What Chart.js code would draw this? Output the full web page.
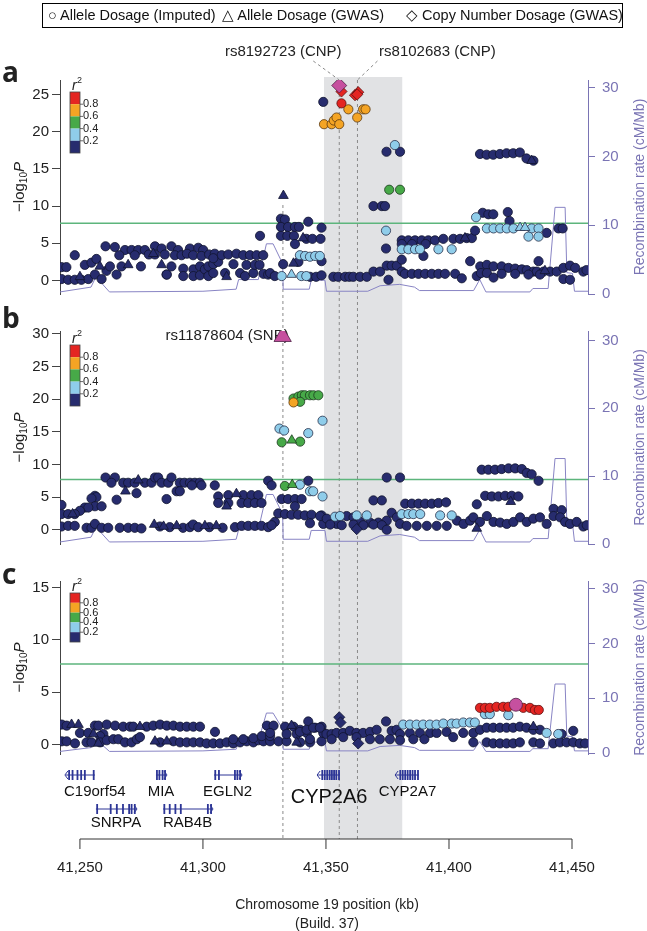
<!DOCTYPE html>
<html>
<head>
<meta charset="utf-8">
<script src="https://cdn.jsdelivr.net/npm/chart.js@4.4.1/dist/chart.umd.min.js"></script>
<style>
  body { margin: 0; background: #fff; width: 647px; height: 931px; position: relative; overflow: hidden; font-family: "Liberation Sans", Arial, sans-serif; }
  canvas { position: absolute; left: 0; }
  #bg { z-index: 0; }
  .panel { z-index: 1; }
  #legend { position: absolute; z-index: 2; left: 42px; top: 3px; width: 579px; height: 23px; border: 1px solid #000; font-size: 14.5px; color: #111; }
  #legend span { position: absolute; top: 3px; white-space: nowrap; }
</style>
</head>
<body>
<div id="legend">
  <span style="left:5px">○ Allele Dosage (Imputed)</span>
  <span style="left:179px">△ Allele Dosage (GWAS)</span>
  <span style="left:363px">◇ Copy Number Dosage (GWAS)</span>
</div>
<canvas id="bg" width="647" height="931" style="top:0"></canvas>
<canvas id="pa" class="panel" width="647" height="280" style="top:30px"></canvas>
<canvas id="pb" class="panel" width="647" height="245" style="top:315px"></canvas>
<canvas id="pc" class="panel" width="647" height="205" style="top:565px"></canvas>
<script>
// chromosome 19 window (kb)
const xMin = 41241.9, xMax = 41456.5;
const xTicks = [41250, 41300, 41350, 41400, 41450];
const aTicks = [0, 5, 10, 15, 20, 25];
const bTicks = [0, 5, 10, 15, 20, 25, 30];
const cTicks = [0, 5, 10, 15];
const recombTicks = [0, 10, 20, 30];
const sigLevel = 7.7;
const bandStart = 41349.2, bandEnd = 41381.0;
const leadPos = [41332.5, 41355.4, 41362.8];

// recombination rate (cM/Mb)
const recombPos = [41241.9, 41254.5, 41256.5, 41262, 41300, 41313.5, 41314.5, 41322.5, 41325.8, 41328.5, 41332.4, 41332.6,
  41343.2, 41344.0, 41349.6, 41350.2, 41367, 41372, 41380, 41386, 41388, 41410, 41412.5, 41415, 41432.9, 41434.1,
  41440.3, 41443.1, 41447.2, 41447.9, 41450.2, 41451.0, 41456.5];
const recombRate = [0.3, 1.0, 2.5, 0.3, 0.4, 0.7, 2.1, 2.1, 7.3, 7.3, 4.4, 0.7,
  0.7, 2.0, 2.0, 0.4, 0.4, 1.2, 1.4, 1.0, 0.5, 0.5, 2.1, 0.3, 0.3, 0.8,
  0.8, 12.6, 12.6, 3.1, 3.0, 0.4, 0.4];

// genes
const geneNames = ['C19orf54', 'SNRPA', 'MIA', 'RAB4B', 'EGLN2', 'CYP2A6', 'CYP2A7'];
const geneStart = [41244.3, 41256.5, 41280.9, 41283.8, 41304.5, 41346.8, 41378.5];
const geneEnd = [41256.1, 41272.8, 41285.0, 41303.7, 41315.5, 41355.7, 41387.8];
const geneRow = [0, 1, 0, 1, 0, 0, 0];
const geneStrand = ['-', '+', '+', '+', '+', '-', '-'];
const geneExons = [
  [41245.6, 41247.0, 41249.0, 41250.5, 41252.0, 41255.6],
  [41257.0, 41262.5, 41265.0, 41267.5, 41270.0, 41271.0, 41272.3],
  [41281.3, 41282.3, 41283.6, 41284.6],
  [41284.3, 41286.5, 41288.8, 41291.0, 41302.0, 41303.3],
  [41305.0, 41306.5, 41313.0, 41314.0, 41315.1],
  [41348.5, 41349.5, 41350.5, 41351.5, 41352.4, 41353.3, 41354.2, 41355.3],
  [41380.2, 41381.2, 41382.2, 41383.2, 41384.2, 41385.2, 41386.2, 41387.4]
];

// panel a : [position kb, -log10 P]
const aNavy = [
  [41242.5,0.2],[41245.2,0.1],[41247.9,0.1],[41250.6,0.1],[41253.4,0.2],[41256.1,0.8],[41258.8,0.2],
  [41242.5,1.8],[41244.5,1.8],[41252.0,2.1],[41254.7,2.4],[41256.7,2.9],[41247.9,3.4],
  [41260.8,1.3],[41262.2,1.9],[41264.9,0.8],[41266.9,1.9],[41274.8,1.9],[41285.2,0.8],[41287.2,1.9],
  [41285.3,0.8],[41292.0,1.6],[41292.0,0.6],[41296.1,1.5],[41296.1,0.6],[41298.8,1.9],[41298.8,0.7],[41300.8,1.5],
  [41302.2,1.9],[41302.2,0.6],[41304.2,2.2],[41304.2,1.0],[41306.2,2.5],[41309.0,1.0],[41312.4,2.2],[41315.1,1.0],
  [41317.1,0.6],[41317.7,2.1],[41320.5,1.0],[41321.1,2.1],[41323.0,2.1],[41324.6,0.9],[41326.5,0.8],[41327.3,1.0],[41329.2,0.6],
  [41260.4,4.6],[41264.2,4.5],[41268.3,4.1],[41271.0,4.1],[41273.7,4.1],[41276.4,4.1],[41280.5,4.6],[41283.2,4.3],
  [41287.2,4.6],[41289.9,4.1],[41294.7,4.3],[41298.1,4.4],[41300.1,4.1],
  [41266.0,3.4],[41272.3,3.4],[41278.0,3.5],[41280.5,3.5],[41284.5,3.5],[41288.6,3.4],[41291.3,3.4],[41293.5,3.6],
  [41296.0,3.4],[41299.4,3.3],[41302.5,3.5],[41304.8,3.6],[41307.6,3.4],[41310.3,3.5],[41313.6,3.6],[41316.4,3.4],
  [41319.1,3.4],[41321.8,3.4],[41324.5,3.4],[41304.2,3.0],
  [41323.2,6.0],[41331.7,8.3],[41333.3,8.2],[41331.7,7.2],[41334.6,7.2],[41337.4,7.2],[41339.0,7.2],[41342.8,7.9],
  [41331.7,6.0],[41334.3,6.0],[41337.0,6.0],[41337.4,4.9],[41342.0,5.6],[41344.5,5.6],[41347.8,5.6],[41348.2,7.1],
  [41332.6,2.2],[41338.8,2.5],[41348.2,2.6],[41343.5,0.5],[41346.0,0.5],[41348.2,0.7],
  [41348.9,24.0],[41374.6,17.3],[41380.1,17.3],[41369.3,10.0],[41372.7,10.0],[41374.0,10.0],[41374.4,4.3],
  [41353.0,0.5],[41355.0,0.5],[41357.8,0.5],[41359.5,0.5],[41361.1,0.5],[41363.9,0.5],[41366.6,0.5],[41369.3,1.2],
  [41372.0,1.2],[41374.7,2.0],[41376.7,2.0],[41378.8,2.0],[41380.8,1.2],[41375.4,0.1],
  [41380.8,5.4],[41383.5,5.4],[41386.2,5.4],[41388.9,5.4],[41391.6,5.4],[41394.3,5.4],[41397.7,5.6],[41401.8,5.6],
  [41404.5,5.6],[41407.2,5.7],[41409.3,5.7],[41380.8,4.9],[41385.0,4.9],[41390.5,4.9],[41380.8,2.8],[41389.6,3.3],
  [41382.1,0.9],[41384.9,0.9],[41387.6,0.9],[41390.3,0.9],[41393.0,0.9],[41395.7,0.9],[41398.4,0.9],[41402.5,0.9],
  [41405.2,0.3],[41408.6,2.6],[41411.3,0.6],[41412.7,1.9],[41415.4,2.1],[41418.1,1.9],[41413.0,1.0],[41415.4,1.0],
  [41418.1,0.4],[41421.4,1.9],[41424.2,1.7],[41426.9,1.6],[41429.6,1.5],[41431.6,1.4],[41434.3,1.2],[41436.4,2.6],
  [41435.7,1.2],[41438.4,1.2],[41441.1,1.2],[41443.8,1.2],[41446.5,1.7],[41449.2,2.0],[41451.3,1.7],[41454.6,1.2],
  [41455.9,1.4],[41446.5,0.2],[41449.2,0.1],[41421.4,0.9],[41426.9,0.9],[41432.3,0.8],[41437.0,0.8],
  [41413.7,9.1],[41416.0,8.9],[41418.0,8.9],[41423.9,9.2],[41424.6,8.0],[41410.6,6.7],[41439.7,6.4],[41444.5,7.0],[41446.2,7.0],
  [41412.6,17.0],[41415.3,16.9],[41418.0,16.9],[41420.7,17.0],[41423.4,17.1],[41426.1,17.1],[41428.8,17.2],[41431.5,16.4],[41434.3,16.1]
];
const aNavyTri = [[41250.0,0.5],[41258.1,1.9],[41269.6,2.1],[41283.2,2.1],[41279.8,3.6],[41309.6,0.5],[41332.7,11.4],
  [41340.7,5.7],[41336.8,2.3],[41433.6,16.1],[41406.5,5.7],[41439.0,1.3]];
const aLightBlue = [[41339.4,3.4],[41341.5,3.3],[41343.5,3.2],[41345.6,3.3],[41347.5,3.3],[41332.0,0.6],[41340.0,0.6],
  [41342.0,0.6],[41378.0,18.2],[41374.4,6.7],[41380.8,4.2],[41383.5,4.2],[41386.2,4.2],[41388.2,4.2],[41395.7,4.2],
  [41401.1,4.2],[41411.0,8.5],[41415.4,7.0],[41418.1,7.0],[41420.8,7.0],[41423.5,7.0],[41426.2,7.0],[41433.6,7.0],
  [41436.4,7.0],[41432.3,5.9],[41436.4,5.9]];
const aLightBlueTri = [[41336.0,0.8],[41428.9,7.1],[41430.9,7.1]];
const aGreen = [[41375.7,12.2],[41380.1,12.2]];
const aOrange = [[41359.1,23.0],[41362.7,21.9],[41365.1,23.0],[41366.1,23.0],[41349.2,21.0],[41352.3,21.0],
  [41353.2,21.5],[41354.3,21.9],[41355.4,21.0]];
const aRed = [[41356.3,23.8]];
const aRedDia = [[41356.3,25.4],[41361.8,24.9],[41363.1,25.3],[41362.7,25.0]];
const aLead = [[41355.4,26.2]];

// panel b
const bNavy = [
  [41260.4,8.0],[41264.2,8.0],[41262.8,7.2],[41267.6,7.2],[41269.6,7.2],[41272.3,7.2],[41276.4,7.2],[41279.1,7.2],
  [41280.5,8.0],[41281.8,8.0],[41283.2,7.2],[41285.9,7.2],[41287.2,8.0],[41290.6,7.2],[41292.5,7.2],[41294.7,7.2],
  [41296.7,7.2],[41298.7,7.2],[41295.5,6.8],[41299.4,6.8],[41304.8,6.8],[41326.5,7.5],[41327.9,6.8],[41342.8,7.5],
  [41273.0,5.6],[41264.9,4.6],[41285.2,4.7],[41289.3,5.9],[41290.6,5.9],[41256.1,5.2],[41256.7,5.0],[41254.7,4.8],
  [41256.1,3.6],[41258.8,3.6],[41252.0,3.4],[41253.4,3.4],[41250.0,2.9],[41247.9,2.4],[41242.5,3.8],[41242.5,2.4],[41245.2,2.4],
  [41242.5,0.5],[41245.2,0.6],[41247.9,0.6],[41252.7,0.3],[41254.7,0.3],[41256.1,0.9],[41258.8,0.3],[41261.5,0.3],
  [41266.2,0.3],[41269.6,0.3],[41272.3,0.3],[41275.0,0.2],[41282.5,0.5],[41286.5,0.4],[41291.9,0.3],[41294.7,0.4],
  [41296.0,0.8],[41298.1,0.4],[41302.6,0.4],[41308.0,0.3],[41313.0,0.4],[41315.7,0.6],[41318.4,0.6],[41321.1,0.6],
  [41323.8,0.6],[41326.5,0.4],[41329.2,1.2],[41327.9,0.7],
  [41306.2,5.1],[41310.3,5.3],[41316.4,5.3],[41319.7,5.3],[41322.5,5.3],[41306.2,4.1],[41310.3,4.1],[41315.7,4.1],
  [41318.4,4.1],[41321.1,4.1],[41323.8,4.1],
  [41332.0,4.7],[41334.6,4.7],[41337.4,4.7],[41340.1,4.7],[41337.4,3.6],[41330.6,2.5],[41333.3,2.4],[41336.0,2.3],
  [41338.7,2.3],[41341.4,2.2],[41344.1,2.3],[41348.2,2.2],[41343.5,1.0],[41348.9,0.9],
  [41374.7,8.0],[41380.1,8.0],[41369.3,4.5],[41372.7,4.5],
  [41382.2,4.0],[41384.9,4.0],[41387.6,4.0],[41390.3,4.0],[41393.0,4.0],[41395.7,4.1],[41398.8,4.2],
  [41413.3,9.2],[41416.0,9.2],[41418.7,9.2],[41421.4,9.3],[41424.2,9.4],[41426.9,9.4],[41429.6,9.3],[41431.6,8.7],
  [41433.6,8.5],[41436.4,7.5],
  [41414.7,5.2],[41417.4,5.1],[41420.1,5.1],[41422.8,5.2],[41425.5,5.2],[41428.2,5.1],[41411.3,3.9],[41442.5,3.2],[41445.8,3.0],
  [41347.6,2.1],[41350.3,1.7],[41354.4,0.9],[41358.4,2.1],[41361.2,1.9],[41363.9,1.2],[41367.9,1.1],[41371.3,1.1],
  [41374.7,1.4],[41376.7,2.6],[41378.8,1.9],[41380.1,0.9],[41382.8,0.6],[41386.9,0.6],[41391.0,0.6],[41395.0,0.6],
  [41399.1,0.6],[41403.2,1.4],[41405.9,0.9],[41408.6,1.4],[41409.9,1.9],[41412.6,1.2],[41415.4,2.1],[41418.1,1.2],
  [41420.8,1.1],[41423.5,0.9],[41426.2,1.2],[41428.9,1.9],[41431.6,1.2],[41434.3,1.7],[41437.0,1.9],[41439.7,0.9],
  [41442.5,2.1],[41445.2,1.9],[41447.2,1.2],[41449.2,0.9],[41451.9,1.2],[41454.6,0.5],[41456.0,0.7],
  [41351.7,0.8],[41356.4,0.7],[41361.2,0.8],[41365.2,0.7],[41369.3,0.8],[41372.7,0.7],[41374.7,0.0]
];
const bNavyTri = [[41268.5,5.9],[41309.6,3.6],[41247.0,2.4],[41280.2,0.8],[41284.0,0.5],[41289.3,0.6],[41300.8,0.6],
  [41305.4,0.6],[41313.6,5.5],[41425.1,4.3],[41411.3,0.2],[41273.7,7.6]];
const bNavyDia = [[41362.5,0.1]];
const bLightBlue = [[41331.1,15.5],[41333.0,15.2],[41342.8,14.8],[41348.6,16.7],[41339.4,6.9],[41343.5,5.9],[41344.8,5.9],
  [41348.6,5.1],[41353.7,2.0],[41355.7,2.1],[41362.5,2.2],[41366.6,2.2],[41380.8,2.4],[41383.5,2.4],[41385.5,2.4],
  [41388.3,2.4],[41396.4,2.2],[41401.1,2.2]];
const bGreen = [[41332.0,13.4],[41339.5,13.5],[41336.8,20.1],[41338.8,20.4],[41340.2,20.6],[41341.4,20.6],[41343.5,20.6],
  [41344.9,20.6],[41346.9,20.6],[41339.5,19.6],[41333.3,6.7]];
const bGreenTri = [[41336.1,13.7],[41336.3,6.9]];
const bOrange = [[41336.8,19.5]];
const bLead = [[41332.4,29.6]];

// panel c
const cNavy = [
  [41242.6,1.9],[41244.6,1.8],[41250.0,1.1],[41253.4,1.1],[41256.1,1.8],[41257.5,1.8],[41260.9,1.9],[41264.3,1.8],
  [41267.6,1.7],[41270.4,1.7],[41271.7,1.7],[41277.1,1.7],[41279.8,1.8],[41282.6,1.9],[41285.3,1.8],[41288.0,1.8],
  [41290.7,1.7],[41293.4,1.7],[41296.1,1.7],[41298.8,1.7],[41304.9,1.2],[41259.5,1.0],[41258.2,0.8],
  [41242.6,0.3],[41244.6,0.3],[41248.0,0.1],[41252.7,0.2],[41254.7,0.2],[41258.2,0.2],[41260.9,0.4],[41263.6,0.5],
  [41265.6,0.5],[41268.3,0.2],[41271.0,0.2],[41273.1,0.5],[41274.4,0.7],[41282.6,0.2],[41288.0,0.3],[41290.7,0.2],
  [41293.4,0.2],[41296.1,0.2],[41298.8,0.2],[41301.5,0.1],[41304.2,0.1],[41306.9,0.1],[41309.6,0.2],[41312.3,0.1],
  [41315.1,0.2],[41317.8,0.3],[41320.5,0.2],[41322.5,0.4],[41324.6,0.3],[41327.3,0.3],[41330.7,0.3],[41334.0,0.3],
  [41339.5,0.2],[41343.5,0.2],[41348.2,0.3],
  [41312.3,0.5],[41316.4,0.5],[41320.5,0.6],[41323.9,0.8],[41327.3,0.8],
  [41326.0,1.8],[41328.7,1.8],[41333.4,1.7],[41336.8,1.7],[41339.5,1.4],[41342.8,2.2],[41345.6,1.6],[41348.2,1.7],
  [41348.9,1.1],[41334.0,1.0],[41338.1,1.0],[41342.2,1.1],[41327.3,1.1],
  [41339.4,1.2],[41342.1,1.4],[41344.8,1.6],[41347.5,1.6],[41350.2,1.0],[41352.3,1.0],[41354.3,1.1],[41357.0,1.1],
  [41359.7,1.3],[41362.4,1.1],[41365.1,1.1],[41367.9,1.2],[41370.6,1.4],[41374.4,2.2],[41376.7,1.3],[41378.7,1.4],
  [41343.5,0.5],[41352.3,0.5],[41357.0,0.7],[41362.4,0.7],[41367.9,0.5],[41371.9,0.5],[41376.0,0.5],
  [41380.1,1.0],[41384.1,1.1],[41388.2,1.1],[41392.3,1.1],[41395.0,1.1],[41399.0,1.2],[41401.7,0.7],[41405.8,1.1],
  [41409.9,1.1],[41412.6,1.4],[41415.3,1.6],[41418.0,1.6],[41420.7,1.6],[41423.4,1.6],[41426.1,1.6],[41428.8,1.7],
  [41431.5,1.6],[41434.3,1.4],[41437.0,1.4],[41445.8,1.0],[41450.5,1.3],[41380.1,0.4],[41385.5,0.5],[41390.0,0.5],
  [41409.9,0.2],[41415.3,0.2],[41418.0,0.1],[41420.7,0.1],[41423.4,0.1],[41426.1,0.1],[41428.8,0.2],[41434.3,0.2],
  [41437.0,0.1],[41442.4,0.1],[41445.1,0.2],[41447.8,0.2],[41450.5,0.2],[41453.2,0.1],[41455.3,0.1]
];
const cNavyTri = [[41246.6,1.9],[41249.4,1.9],[41255.5,1.0],[41257.5,0.1],[41274.4,1.7],[41280.5,0.3],[41285.3,0.3],
  [41336.0,1.8],[41338.1,0.2],[41434.3,1.7]];
const cNavyDia = [[41355.4,2.6],[41355.9,2.1],[41363.1,0.1]];
const cLightBlue = [[41381.4,1.9],[41384.1,1.9],[41386.8,1.9],[41389.5,1.9],[41392.2,1.9],[41394.9,1.9],[41397.7,2.0],
  [41401.1,2.0],[41403.1,2.0],[41405.8,2.1],[41408.5,2.1],[41410.5,2.1],[41414.6,2.9],[41416.6,2.9],[41424.1,2.8],
  [41439.7,1.1],[41444.4,1.0]];
const cRed = [[41412.6,3.5],[41414.6,3.5],[41416.6,3.5],[41419.3,3.6],[41422.0,3.6],[41424.1,3.6],[41430.2,3.5],
  [41432.9,3.5],[41434.9,3.3],[41436.5,3.3]];
const cLead = [[41427.2,3.8]];

const FONT = '"Liberation Sans", Arial, sans-serif';
const PURPLE = '#7A74B4';
const col = {
  navy: ['#272C6E', '#10142E'], lb: ['#8FCDEA', '#27304A'], green: ['#47A948', '#1C3A1E'],
  orange: ['#F4A424', '#5A3810'], red: ['#E42522', '#5A1212'], mag: ['#C6509F', '#4E1F45']
};
const keyColors = ['#E42522', '#F4A424', '#47A948', '#8FCDEA', '#272C6E'];
const keyLabels = ['0.8', '0.6', '0.4', '0.2'];
const shapes = { circle: ['circle', 4.6], tri: ['triangle', 5.6], dia: ['rectRot', 5.6] };

function series(data, c, shape, order, r) {
  return {
    data: data.map(p => ({ x: p[0], y: p[1] })),
    pointStyle: shapes[shape][0],
    pointRadius: r || shapes[shape][1],
    pointBackgroundColor: col[c][0],
    pointBorderColor: col[c][1],
    pointBorderWidth: 0.8,
    order: order,
    yAxisID: 'y'
  };
}

function drawLogP(ctx, cx, cy) {
  ctx.save();
  ctx.translate(cx, cy);
  ctx.rotate(-Math.PI / 2);
  ctx.fillStyle = '#222';
  ctx.textBaseline = 'middle';
  ctx.textAlign = 'left';
  const f1 = '15px ' + FONT, f2 = '10px ' + FONT, f3 = 'italic 15px ' + FONT;
  ctx.font = f1; const w1 = ctx.measureText('\u2212log').width;
  ctx.font = f2; const w2 = ctx.measureText('10').width;
  ctx.font = f3; const w3 = ctx.measureText('P').width;
  let x = -(w1 + w2 + w3) / 2;
  ctx.font = f1; ctx.fillText('\u2212log', x, 0); x += w1;
  ctx.font = f2; ctx.fillText('10', x, 4); x += w2;
  ctx.font = f3; ctx.fillText('P', x, 0);
  ctx.restore();
}

function makePanel(id, cfg) {
  const deco = {
    id: 'deco' + id,
    beforeDatasetsDraw(chart) {
      const ctx = chart.ctx, ca = chart.chartArea, ys = chart.scales.y, xs = chart.scales.x;
      ctx.save();
      // genome-wide significance
      const sy = ys.getPixelForValue(sigLevel);
      ctx.strokeStyle = '#5DB57C';
      ctx.lineWidth = 1.5;
      ctx.beginPath(); ctx.moveTo(ca.left, sy); ctx.lineTo(ca.right, sy); ctx.stroke();
      // r2 key
      const kx = ca.left + 10, ky = ca.top + cfg.keyTop, seg = cfg.keySeg;
      keyColors.forEach((c, i) => {
        ctx.fillStyle = c;
        ctx.fillRect(kx, ky + i * seg, 10, seg);
      });
      ctx.strokeStyle = '#444'; ctx.lineWidth = 0.8;
      ctx.strokeRect(kx, ky, 10, seg * 5);
      ctx.fillStyle = '#222';
      ctx.font = '11px ' + FONT;
      ctx.textBaseline = 'middle';
      ctx.textAlign = 'left';
      keyLabels.forEach((t, i) => {
        const yy = ky + (i + 1) * seg;
        ctx.beginPath(); ctx.moveTo(kx + 10, yy); ctx.lineTo(kx + 13, yy); ctx.stroke();
        ctx.fillText(t, kx + 13, yy);
      });
      ctx.textBaseline = 'alphabetic';
      ctx.font = 'italic 14px ' + FONT;
      ctx.fillText('r', kx + 2, ky - 2);
      ctx.font = '9px ' + FONT;
      ctx.fillText('2', kx + 7, ky - 9);
      // axis titles
      drawLogP(ctx, 20, (ca.top + ca.bottom) / 2);
      ctx.save();
      ctx.translate(640, (ca.top + ca.bottom) / 2);
      ctx.rotate(-Math.PI / 2);
      ctx.fillStyle = PURPLE;
      ctx.font = '14px ' + FONT;
      ctx.textAlign = 'center';
      ctx.textBaseline = 'middle';
      ctx.fillText('Recombination rate (cM/Mb)', 0, 0);
      ctx.restore();
      // lead SNP label
      if (cfg.leadLabel) {
        const p = cfg.leadLabel.pt;
        ctx.fillStyle = '#222';
        ctx.font = '15px ' + FONT;
        ctx.textAlign = 'right';
        ctx.textBaseline = 'middle';
        ctx.fillText(cfg.leadLabel.text, xs.getPixelForValue(p[0]) + 6, ys.getPixelForValue(p[1]) - 1);
      }
      ctx.restore();
    }
  };
  const datasets = cfg.series.slice();
  datasets.push({
    data: recombPos.map((x, i) => ({ x: x, y: recombRate[i] })),
    showLine: true, pointRadius: 0, borderColor: '#8884C4', borderWidth: 1,
    tension: 0, yAxisID: 'y2', order: 100
  });
  return new Chart(document.getElementById(id), {
    type: 'scatter',
    data: { datasets: datasets },
    options: {
      responsive: false, animation: false, events: [],
      layout: { autoPadding: false, padding: { top: cfg.padTop, bottom: cfg.padBottom, left: 0, right: 0 } },
      plugins: { legend: { display: false }, tooltip: { enabled: false } },
      scales: {
        x: { type: 'linear', min: xMin, max: xMax, display: false },
        y: {
          position: 'left', min: cfg.yMin, max: cfg.yMax, bounds: 'data',
          afterFit: s => { s.width = 60; },
          afterBuildTicks: s => { s.ticks = cfg.ticks.map(v => ({ value: v })); },
          ticks: { color: '#222', padding: 3, font: { family: FONT, size: 15 } },
          grid: { drawOnChartArea: false, tickLength: 8, color: '#444' },
          border: { color: '#444' }
        },
        y2: {
          position: 'right', min: cfg.rMin, max: cfg.rMax, bounds: 'data',
          afterFit: s => { s.width = 59; },
          afterBuildTicks: s => { s.ticks = recombTicks.map(v => ({ value: v })); },
          ticks: { color: PURPLE, padding: 7, font: { family: FONT, size: 15 } },
          grid: { drawOnChartArea: false, tickLength: 7, color: PURPLE },
          border: { color: PURPLE }
        }
      }
    },
    plugins: [deco]
  });
}

// background: shaded region, dashed lead lines, genes, x axis
const bgDeco = {
  id: 'bgDeco',
  beforeDatasetsDraw(chart) {
    const ctx = chart.ctx, ca = chart.chartArea, xs = chart.scales.x;
    const px = v => xs.getPixelForValue(v);
    ctx.save();
    ctx.fillStyle = '#E1E2E4';
    ctx.fillRect(px(bandStart), ca.top, px(bandEnd) - px(bandStart), ca.bottom - ca.top);

    // dashed lines
    ctx.strokeStyle = '#8A8A8A';
    ctx.lineWidth = 1;
    ctx.setLineDash([3, 3]);
    const tops = [205, 82, 80];
    leadPos.forEach((k, i) => {
      ctx.beginPath(); ctx.moveTo(px(k), tops[i]); ctx.lineTo(px(k), ca.bottom); ctx.stroke();
    });
    const l1 = px(leadPos[1]) - 56, l2 = px(leadPos[2]) + 80;
    ctx.beginPath(); ctx.moveTo(l1 + 30, 61); ctx.lineTo(px(leadPos[1]), 80); ctx.stroke();
    ctx.beginPath(); ctx.moveTo(l2 - 60, 61); ctx.lineTo(px(leadPos[2]), 80); ctx.stroke();
    ctx.setLineDash([]);
    ctx.fillStyle = '#222';
    ctx.font = '15px ' + FONT;
    ctx.textAlign = 'center';
    ctx.textBaseline = 'middle';
    ctx.fillText('rs8192723 (CNP)', l1, 52);
    ctx.fillText('rs8102683 (CNP)', l2, 52);

    // panel letters
    ctx.font = 'bold 28px "Open Sans", sans-serif';
    ctx.textAlign = 'left';
    ctx.textBaseline = 'alphabetic';
    ctx.fillText('a', 2, 82);
    ctx.fillText('b', 2, 328);
    ctx.fillText('c', 2, 584);

    // genes
    const rowY = [775, 809], labY = [792, 823];
    geneNames.forEach((g, i) => {
      const y = rowY[geneRow[i]];
      const x0 = px(geneStart[i]), x1 = px(geneEnd[i]);
      ctx.strokeStyle = '#2C3596';
      ctx.fillStyle = '#2C3596';
      ctx.lineWidth = 1;
      ctx.beginPath(); ctx.moveTo(x0, y); ctx.lineTo(x1, y); ctx.stroke();
      geneExons[i].forEach(e => { ctx.fillRect(px(e) - 0.9, y - 5, 1.8, 10); });
      ctx.beginPath();
      if (geneStrand[i] === '-') {
        ctx.moveTo(x0 + 2, y - 4); ctx.lineTo(x0 - 1, y); ctx.lineTo(x0 + 2, y + 4);
      } else {
        ctx.moveTo(x1 - 2, y - 4); ctx.lineTo(x1 + 1, y); ctx.lineTo(x1 - 2, y + 4);
      }
      ctx.stroke();
      const big = g === 'CYP2A6';
      ctx.font = (big ? '20px ' : '15px ') + FONT;
      ctx.fillStyle = '#111';
      const w = ctx.measureText(g).width;
      let cx = (x0 + x1) / 2;
      if (cx - w / 2 < ca.left + 4) cx = ca.left + 4 + w / 2;
      ctx.textAlign = 'center';
      ctx.textBaseline = 'middle';
      ctx.fillText(g, cx, big ? labY[0] + 5 : labY[geneRow[i]]);
    });

    // x axis
    ctx.strokeStyle = '#333';
    ctx.lineWidth = 1;
    const ay = ca.bottom;
    ctx.beginPath(); ctx.moveTo(px(xTicks[0]), ay); ctx.lineTo(px(xTicks[xTicks.length - 1]), ay); ctx.stroke();
    ctx.fillStyle = '#222';
    ctx.font = '15px ' + FONT;
    ctx.textAlign = 'center';
    ctx.textBaseline = 'middle';
    xTicks.forEach(t => {
      ctx.beginPath(); ctx.moveTo(px(t), ay); ctx.lineTo(px(t), ay + 10); ctx.stroke();
      ctx.fillText(t.toLocaleString('en-US'), px(t), ay + 29);
    });
    ctx.font = '14px ' + FONT;
    ctx.fillText('Chromosome 19 position (kb)', 327, 905);
    ctx.fillText('(Build. 37)', 327, 924);
    ctx.restore();
  }
};

new Chart(document.getElementById('bg'), {
  type: 'scatter',
  data: { datasets: [] },
  options: {
    responsive: false, animation: false, events: [],
    layout: { autoPadding: false, padding: { left: 60, right: 59, top: 77, bottom: 92 } },
    plugins: { legend: { display: false }, tooltip: { enabled: false } },
    scales: {
      x: { type: 'linear', min: xMin, max: xMax, display: false },
      y: { min: 0, max: 1, display: false }
    }
  },
  plugins: [bgDeco]
});

makePanel('pa', {
  padTop: 50, padBottom: 8, yMin: -1.81, yMax: 26.94, rMin: 0, rMax: 31.12, keyTop: 12, keySeg: 12.2, ticks: aTicks,
  series: [
    series(aNavy, 'navy', 'circle', 50), series(aNavyTri, 'navy', 'tri', 49),
    series(aLightBlue, 'lb', 'circle', 40), series(aLightBlueTri, 'lb', 'tri', 39),
    series(aGreen, 'green', 'circle', 30), series(aOrange, 'orange', 'circle', 20),
    series(aRed, 'red', 'circle', 10), series(aRedDia, 'red', 'dia', 9),
    series(aLead, 'mag', 'dia', 0, 7.5)
  ]
});
makePanel('pb', {
  padTop: 14, padBottom: 7, yMin: -2.18, yMax: 30.44, rMin: 0, rMax: 31.4, keyTop: 14, keySeg: 12.2, ticks: bTicks,
  leadLabel: { text: 'rs11878604 (SNP)', pt: bLead[0] },
  series: [
    series(bNavy, 'navy', 'circle', 50), series(bNavyTri, 'navy', 'tri', 49), series(bNavyDia, 'navy', 'dia', 48),
    series(bLightBlue, 'lb', 'circle', 40), series(bGreen, 'green', 'circle', 30), series(bGreenTri, 'green', 'tri', 29),
    series(bOrange, 'orange', 'circle', 20), series(bLead, 'mag', 'tri', 0, 10)
  ]
});
makePanel('pc', {
  padTop: 16, padBottom: 8, yMin: -0.915, yMax: 15.64, rMin: -0.17, rMax: 31.4, keyTop: 12, keySeg: 9.8, ticks: cTicks,
  series: [
    series(cNavy, 'navy', 'circle', 50), series(cNavyTri, 'navy', 'tri', 49), series(cNavyDia, 'navy', 'dia', 48),
    series(cLightBlue, 'lb', 'circle', 40), series(cRed, 'red', 'circle', 10), series(cLead, 'mag', 'circle', 0, 6.5)
  ]
});
</script>
</body>
</html>
